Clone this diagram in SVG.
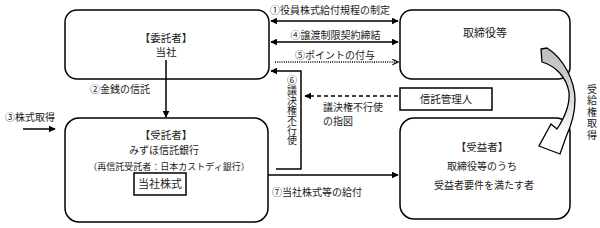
<svg xmlns="http://www.w3.org/2000/svg" width="600" height="228" viewBox="0 0 600 228">
<style>
.box{fill:#fff;stroke:#000;stroke-width:1.5}
.t{font-family:"Noto Sans CJK JP","Noto Sans",sans-serif;fill:#222;font-size:10px}
.c{text-anchor:middle}
.v{writing-mode:vertical-rl;text-anchor:start}
.ln{fill:none;stroke:#000;stroke-width:1.5}
</style>
<defs>
<marker id="ah" viewBox="0 0 10 10" refX="9" refY="5" markerWidth="7" markerHeight="7" markerUnits="userSpaceOnUse" orient="auto-start-reverse">
<path d="M0,0 L10,5 L0,10 Z" fill="#000"/>
</marker>
<marker id="oh" viewBox="0 0 10 10" refX="9" refY="5" markerWidth="7" markerHeight="7" markerUnits="userSpaceOnUse" orient="auto">
<path d="M1,1 L9,5 L1,9" fill="none" stroke="#000" stroke-width="1.6"/>
</marker>
<linearGradient id="g" x1="0" y1="0" x2="0" y2="1">
<stop offset="0" stop-color="#bdbdbd"/>
<stop offset="0.55" stop-color="#e0e0e0"/>
<stop offset="0.8" stop-color="#fff"/>
</linearGradient>
</defs>

<g id="itakusha">
<rect class="box" x="65" y="10" width="204" height="69" rx="12"/>
<text class="t c" x="166" y="42" style="font-size:10.5px">【委託者】</text>
<text class="t c" x="166" y="56" style="font-size:10.5px">当社</text>
</g>

<g id="torishimariyaku">
<rect class="box" x="400" y="10" width="170" height="69" rx="12"/>
<text class="t c" x="485" y="37" style="font-size:11px">取締役等</text>
</g>

<g id="jutakusha">
<rect class="box" x="65" y="118" width="203" height="104" rx="14"/>
<text class="t c" x="166" y="139" style="font-size:10.5px">【受託者】</text>
<text class="t c" x="164" y="153.5">みずほ信託銀行</text>
<text class="t c" x="169" y="169.5" style="font-size:9px">（再信託受託者：日本カストディ銀行）</text>
</g>

<g id="toshakabushiki">
<rect x="134" y="173" width="52" height="22" fill="#fff" stroke="#000" stroke-width="1.5"/>
<text class="t c" x="160" y="188" style="font-size:11px">当社株式</text>
</g>

<g id="shintakanrinin">
<rect x="400" y="88" width="92" height="22" fill="#fff" stroke="#000" stroke-width="1.5"/>
<text class="t c" x="446" y="103" style="font-size:10.5px">信託管理人</text>
</g>

<g id="juekisha">
<rect class="box" x="400" y="118" width="170" height="101" rx="14"/>
<text class="t c" x="482" y="151" style="font-size:10.5px">【受益者】</text>
<text class="t c" x="482" y="170">取締役等のうち</text>
<text class="t c" x="484" y="189">受益者要件を満たす者</text>
</g>

<g id="connectors">
<line class="ln" x1="271" y1="21" x2="398" y2="21" marker-start="url(#ah)" marker-end="url(#ah)"/>
<line class="ln" x1="271" y1="42" x2="398" y2="42" marker-start="url(#ah)" marker-end="url(#ah)"/>
<line x1="275" y1="62" x2="398" y2="62" fill="none" stroke="#000" stroke-width="1.3" stroke-dasharray="1,1.2" marker-end="url(#oh)"/>
<polyline class="ln" points="276,169 301,169 301,71 271,71" marker-end="url(#ah)"/>
<line x1="398" y1="96" x2="305" y2="96" fill="none" stroke="#000" stroke-width="1.5" stroke-dasharray="4,3" marker-end="url(#ah)"/>
<line class="ln" x1="166" y1="60" x2="166" y2="117" marker-end="url(#ah)"/>
<line class="ln" x1="23" y1="129" x2="55" y2="129" marker-end="url(#ah)"/>
<line class="ln" x1="268" y1="175" x2="398" y2="175" marker-end="url(#ah)"/>
<path d="M541,49 L547,48 C563,58 575,80 575,100 C575,114 571,126 566,137 L560,154 L539,146 L551,124 L557,129 C565,117 570,104 569,92 C566,76 555,66 542,62 Z" fill="url(#g)" stroke="#000" stroke-width="1.3" stroke-linejoin="miter"/>

<text class="t c" x="330" y="13.5">①役員株式給付規程の制定</text>
<text class="t c" x="335.5" y="38.5">④譲渡制限契約締結</text>
<text class="t c" x="335" y="58.5">⑤ポイントの付与</text>
<text class="t v" x="292" y="75">⑥議決権不行使</text>
<text class="t" x="323" y="110.5">議決権不行使</text>
<text class="t" x="323" y="124.5">の指図</text>
<text class="t" x="90" y="92.5">②金銭の信託</text>
<text class="t" x="5" y="120.5">③株式取得</text>
<text class="t" x="272" y="195.5">⑦当社株式等の給付</text>
<text class="t v" x="592" y="84" style="letter-spacing:1.5px">受給権取得</text>
</g>
</svg>
